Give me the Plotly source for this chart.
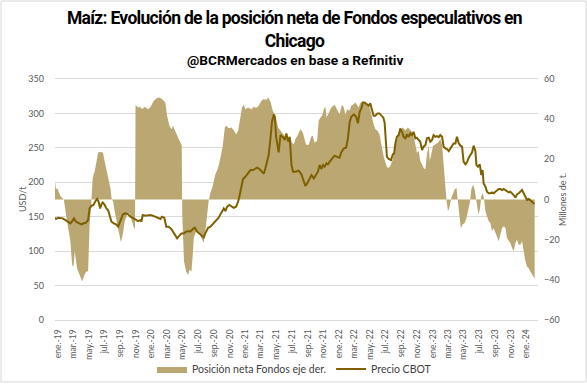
import plotly.graph_objects as go
import pandas as pd

start = pd.Timestamp("2019-01-01")

# Net position of speculative funds (millions of t), right axis; days since 2019-01-01
pos_days = [-12, -8, -4, 3, 9, 18, 23, 35, 48, 55,
            60, 65, 74, 84, 94, 103, 110, 117, 123, 130,
            135, 143, 149, 156, 165, 175, 184, 197, 205, 209,
            214, 223, 236, 245, 252, 260, 269, 278, 288, 296,
            300, 302, 312, 320, 327, 338, 351, 361, 373, 386,
            395, 405, 418, 425, 434, 442, 448, 457, 464, 473,
            480, 482, 484, 491, 499, 507, 513, 520, 525, 529,
            538, 548, 559, 568, 574, 581, 587, 594, 603, 613,
            624, 633, 642, 650, 656, 665, 676, 685, 694, 702,
            711, 717, 724, 730, 741, 754, 763, 772, 782, 793,
            802, 811, 819, 828, 837, 847, 858, 867, 880, 893,
            906, 912, 919, 925, 936, 945, 954, 962, 967, 977,
            987, 993, 1000, 1010, 1016, 1023, 1029, 1036, 1042, 1047,
            1055, 1065, 1078, 1088, 1097, 1107, 1114, 1120, 1127, 1136,
            1143, 1153, 1159, 1165, 1172, 1179, 1188, 1198, 1208, 1217,
            1224, 1230, 1237, 1245, 1253, 1260, 1269, 1279, 1286, 1295,
            1305, 1315, 1325, 1334, 1343, 1354, 1364, 1375, 1382, 1390,
            1399, 1406, 1412, 1419, 1425, 1432, 1438, 1445, 1449, 1455,
            1462, 1471, 1481, 1490, 1497, 1503, 1510, 1514, 1520, 1527,
            1533, 1540, 1546, 1553, 1559, 1564, 1570, 1577, 1585, 1592,
            1598, 1605, 1611, 1618, 1624, 1629, 1635, 1640, 1645, 1650,
            1655, 1661, 1666, 1672, 1679, 1685, 1692, 1698, 1705, 1711,
            1718, 1724, 1731, 1737, 1744, 1750, 1757, 1763, 1770, 1776,
            1783, 1789, 1796, 1802, 1809, 1815, 1822, 1828, 1835, 1841,
            1848, 1854, 1858]
pos_values = [8.8, 5, 5.8, 3.3, 1.7, 0.5, -0.5, -10.8, -20.8, -32.8,
              -33.3, -25.8, -34.2, -37.5, -40.8, -37.5, -35.8, -35.8, -12.5, -0.5,
              10.8, 14.2, 19.2, 23.3, 23.8, 23.3, 17.5, 9.2, 5, 0,
              -0.8, -7.5, -15.8, -21.3, -17.5, -10.8, -7.5, -6.7, -10.8, -14.2,
              -14.5, 47, 45.8, 46.2, 45, 46.2, 45, 46.2, 49.2, 50.5,
              50.8, 50, 48.3, 41.7, 36.7, 35, 36.7, 33.8, 31.5, 29.2,
              27.5, 27, -7.5, -30.8, -35.8, -37.5, -35, -35.8, -27.5, -19.2,
              -15.8, -16.7, -19.2, -21.7, -15.8, -7.5, -0.8, 3.3, 6.7, 12.5,
              15.8, 20.8, 26.7, 35.8, 36.7, 35.5, 35.8, 34.5, 32.5, 34.2,
              42.5, 45.8, 47.2, 45, 45.8, 45, 46.2, 45.5, 46.7, 49.2,
              50, 49.5, 50.8, 48.8, 44.2, 41.7, 35.8, 34.2, 32.5, 30,
              30.8, 28.3, 27.5, 30, 32.5, 35, 33.3, 29.2, 27.2, 27.2,
              31.2, 31.7, 28.3, 29.2, 39.2, 40.8, 41.7, 45, 46.2, 40.8,
              43.3, 45.8, 47.2, 45, 42.5, 47.2, 45.8, 42.2, 45, 44.2,
              46.7, 47.5, 48.3, 47.2, 45.8, 48.3, 48.8, 48.3, 47.5, 45,
              40.8, 37.5, 35, 34.2, 32.5, 27.5, 21.7, 17.2, 15.5, 16.7,
              20, 27.5, 31.7, 34.2, 35.8, 34.5, 35.8, 34.2, 33.3, 29.2,
              23.3, 24.2, 19.2, 17.5, 15.8, 15, 22.5, 26.7, 19.2, 22.5,
              26.7, 27.5, 28.3, 30, 27.5, 17.5, 5.8, 0, -5.8, -3.3,
              0.8, 3.3, 5, 5.8, -0.8, -7.5, -14.2, -12.5, -11.7, -9.2,
              -5.8, -1.7, 5, 7.5, 5, 0, -4.2, -7.5, -4.2, 1.7,
              3.3, 0, -5.8, -8.3, -10.8, -11.7, -15.8, -14.2, -16.7, -19.2,
              -20.8, -17.5, -14.2, -13.3, -14.2, -19.2, -20.8, -21.7, -24.2, -25.8,
              -21.7, -20, -22.5, -22.5, -20.8, -25.8, -30.8, -33.3, -34.2, -35.8,
              -37.5, -39.2, -39.5]

# CBOT price (USD/t), left axis; days since 2019-01-01
price_days = [-12, -8, 0, 9, 18, 29, 39, 48, 55, 62,
              70, 81, 91, 100, 109, 117, 123, 130, 138, 146,
              152, 158, 164, 169, 174, 182, 188, 195, 201, 208,
              217, 226, 234, 240, 247, 253, 262, 273, 282, 291,
              301, 312, 320, 325, 330, 340, 351, 360, 369, 380,
              390, 399, 405, 414, 422, 431, 442, 451, 460, 464,
              473, 481, 490, 499, 509, 516, 525, 533, 542, 551,
              559, 568, 574, 585, 594, 603, 611, 620, 626, 633,
              639, 646, 652, 659, 668, 676, 685, 694, 702, 708,
              715, 721, 730, 741, 750, 760, 769, 776, 785, 793,
              802, 808, 815, 821, 828, 834, 841, 845, 850, 855,
              860, 867, 876, 884, 890, 897, 903, 910, 916, 925,
              938, 949, 958, 964, 971, 980, 988, 997, 1006, 1013,
              1020, 1026, 1033, 1039, 1046, 1052, 1059, 1068, 1078, 1088,
              1097, 1104, 1114, 1123, 1130, 1137, 1143, 1153, 1162, 1169,
              1176, 1182, 1189, 1195, 1204, 1211, 1217, 1224, 1230, 1237,
              1245, 1253, 1260, 1268, 1273, 1279, 1282, 1289, 1298, 1305,
              1310, 1315, 1321, 1328, 1334, 1341, 1347, 1354, 1360, 1367,
              1373, 1380, 1386, 1393, 1399, 1406, 1412, 1419, 1425, 1432,
              1438, 1445, 1451, 1458, 1464, 1471, 1477, 1484, 1490, 1497,
              1503, 1510, 1516, 1523, 1529, 1536, 1542, 1549, 1555, 1562,
              1568, 1575, 1581, 1588, 1594, 1601, 1607, 1614, 1620, 1627,
              1631, 1637, 1644, 1650, 1655, 1659, 1666, 1672, 1679, 1685,
              1692, 1698, 1705, 1711, 1718, 1724, 1731, 1737, 1744, 1750,
              1757, 1763, 1770, 1776, 1783, 1789, 1796, 1802, 1809, 1815,
              1822, 1828, 1835, 1841, 1848, 1854, 1858]
price_values = [148.6, 146.7, 148.6, 148.6, 147.6, 145, 142.8, 140.4, 143.7, 147.6,
                142.8, 141.3, 139, 140.4, 141.3, 145, 162, 166, 167, 172.8,
                175.7, 171.8, 162, 168, 170.8, 167, 162, 159.7, 152.5, 142.8,
                140.4, 139, 135.5, 140.4, 147.6, 153.4, 154.9, 153.4, 150, 148.6,
                146.2, 143.7, 145, 142.8, 152.5, 151.5, 152.5, 152.5, 151.5, 150,
                148.6, 146.7, 150, 148.6, 135.5, 135.5, 132, 125.8, 119.5, 118.6,
                122.5, 125.8, 125.8, 128.3, 129.2, 128.3, 132, 134, 128.3, 125.8,
                123.4, 120, 125.8, 134, 135.5, 139, 142.8, 145, 148.6, 153.4,
                157.3, 162, 158.3, 164.6, 167, 165.5, 163, 164.6, 171.8, 181.5,
                193.6, 204.7, 208, 213, 217.8, 217.8, 219.3, 221.2, 219.3, 215.4,
                212.5, 220, 230, 239.6, 263.8, 288, 298.6, 295, 266, 251.7,
                243.5, 268.6, 266, 261.4, 271, 259, 266, 225, 215.4, 215.4,
                216.8, 211.5, 200.9, 194.6, 198.4, 205.7, 210.5, 205.7, 210.5, 215.4,
                225, 219.3, 225, 222.6, 227.5, 226, 230, 233.8, 238.6, 237,
                235.7, 243.5, 249.3, 250.2, 263.8, 288, 295, 298.6, 295, 285.6,
                302.5, 307.3, 316, 316, 313, 311.2, 314.6, 305, 296.7, 296.7,
                300, 300, 296.7, 293.8, 287, 259, 237, 233.8, 232.3, 240.5,
                242, 256.5, 266, 268.6, 278, 273.3, 266, 263.8, 269.6, 266,
                271, 268.6, 273.3, 263.8, 264.8, 261.4, 259, 246.8, 251.7, 254,
                263.8, 264.8, 259, 261.4, 268.6, 266, 267, 265.5, 268.6, 266,
                251.7, 249.3, 248.3, 245.4, 249.3, 254, 256.5, 256.5, 266, 256.5,
                253.2, 251.7, 230, 226, 229, 235.7, 238.6, 243.5, 253.2, 245,
                225, 222.6, 226, 210.5, 217.8, 198.4, 193.6, 186.4, 184, 184,
                185.4, 184, 186.4, 188.8, 190.2, 190.2, 188.8, 190.2, 188.8, 186.4,
                185.4, 186.4, 184, 181.5, 177.7, 182.5, 184, 186.4, 188.8, 184,
                179.2, 174.4, 175.7, 174.4, 171.8, 169.4, 169]

month_abbr = ["ene.", "mar.", "may.", "jul.", "sep.", "nov."]
month_num = [1, 3, 5, 7, 9, 11]
tick_dates = []
tick_labels = []
for yr in range(2019, 2025):
    for m, ab in zip(month_num, month_abbr):
        if yr == 2024 and m > 1:
            break
        tick_dates.append(pd.Timestamp(year=yr, month=m, day=1))
        tick_labels.append(f"{ab}-{str(yr)[2:]}")

pos_dates = [start + pd.Timedelta(days=d) for d in pos_days]
price_dates = [start + pd.Timedelta(days=d) for d in price_days]

FILL = "#BBA771"
LINE = "#7F6000"
TXT = "#595959"
FONT = "Lato, Liberation Sans, sans-serif"

fig = go.Figure()
fig.add_trace(go.Scatter(
    x=pos_dates, y=pos_values, name="Posición neta Fondos eje der.",
    mode="lines", line=dict(width=0, color=FILL), fill="tozeroy",
    fillcolor=FILL, yaxis="y"))
fig.add_trace(go.Scatter(
    x=price_dates, y=price_values, name="Precio CBOT",
    mode="lines", line=dict(width=2, color=LINE), yaxis="y2"))

fig.update_layout(
    width=587, height=384,
    margin=dict(l=55, r=49, t=79, b=64, autoexpand=False),
    paper_bgcolor="white", plot_bgcolor="white",
    font=dict(family=FONT, color=TXT, size=9),
    showlegend=True,
    legend=dict(orientation="h", xref="container", yref="container",
                x=0.5017, y=0.039, xanchor="center", yanchor="middle",
                font=dict(size=10.5, color="#404040", family=FONT),
                itemwidth=30, bgcolor="rgba(0,0,0,0)"),
    xaxis=dict(type="date", range=[start + pd.Timedelta(days=-12), start + pd.Timedelta(days=1871)],
               tickvals=tick_dates, ticktext=tick_labels, tickangle=-90,
               tickfont=dict(size=8.5, color=TXT), showgrid=False,
               showline=True, linecolor="#D9D9D9", linewidth=1, mirror=True,
               ticks="", ticklabelstandoff=5, zeroline=False, automargin=False),
    yaxis=dict(side="right", range=[-60, 60], dtick=20, showgrid=False, zeroline=False,
               tickfont=dict(size=9, color=TXT), ticklabelstandoff=5, ticks="",
               automargin=False),
    yaxis2=dict(side="left", overlaying="y", range=[0, 350], dtick=50,
                showgrid=True, gridcolor="#D9D9D9", gridwidth=1, zeroline=False,
                tickfont=dict(size=9, color=TXT), ticklabelstandoff=10, ticks="",
                automargin=False),
)

TITLE_FONT = "Roboto, Liberation Sans, sans-serif"
fig.add_annotation(
    text="<b><span style='letter-spacing:-0.7px'>Maíz: Evolución de la posición neta de Fondos especulativos en</span>"
         "<br><span style='letter-spacing:-0.7px'>Chicago</span></b>",
    xref="paper", yref="paper", x=0.496, y=1.207, xanchor="center", yanchor="middle",
    showarrow=False, font=dict(family=TITLE_FONT, size=17.5, color="black"))
fig.add_annotation(
    text="<b>@BCRMercados en base a Refinitiv</b>",
    xref="paper", yref="paper", x=0.496, y=1.077, xanchor="center", yanchor="middle",
    showarrow=False, font=dict(family=TITLE_FONT, size=13.7, color="black"))
fig.add_annotation(text="USD/t", xref="paper", yref="paper", x=-0.0828, y=0.5,
                   textangle=-90, showarrow=False, font=dict(size=9, color=TXT))
fig.add_annotation(text="Millones de t.", xref="paper", yref="paper", x=1.0663, y=0.5,
                   textangle=-90, showarrow=False, font=dict(size=9, color=TXT))

fig.add_shape(type="rect", xref="paper", yref="paper", x0=-0.1118, x1=1.0994, y0=-0.257, y1=1.3237,
              line=dict(color="#D9D9D9", width=1), fillcolor="rgba(0,0,0,0)", layer="below")

fig.write_html("out.html", config={"displayModeBar": False},
               post_script="document.body.style.margin='0px';")
